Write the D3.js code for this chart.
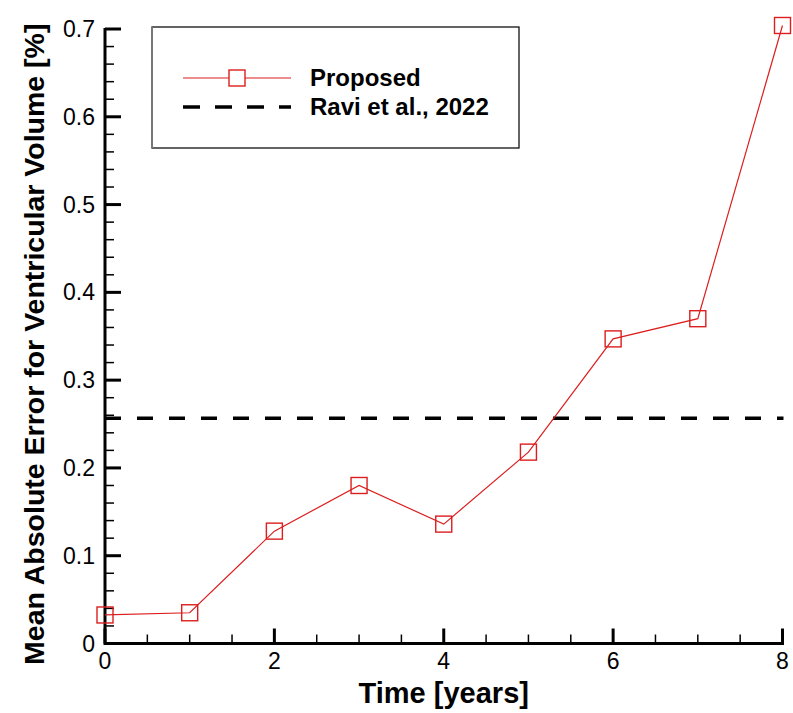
<!DOCTYPE html>
<html>
<head>
<meta charset="utf-8">
<script src="https://cdn.jsdelivr.net/npm/d3@7"></script>
<style>
  body { margin: 0; background: #fff; }
  svg text { font-family: "Liberation Sans", Arial, Helvetica, sans-serif; }
</style>
</head>
<body>
<div id="chart"></div>
<script>
// data
var years = [0, 1, 2, 3, 4, 5, 6, 7, 8];
var proposedMAE = [0.0325, 0.035, 0.128, 0.180, 0.136, 0.218, 0.347, 0.370, 0.704];
var raviMAE = 0.2565;
var xTicks = [0, 2, 4, 6, 8];
var yTicks = [0, 0.1, 0.2, 0.3, 0.4, 0.5, 0.6, 0.7];
var legendLabels = ["Proposed", "Ravi et al., 2022"];

var W = 793, H = 713;
var plotL = 105, plotR = 782.5, plotT = 29, plotB = 643.5;
var red = "#dc1e1e";

var svg = d3.select("#chart").append("svg").attr("width", W).attr("height", H);

var x = d3.scaleLinear().domain([0, 8]).range([plotL, plotR]);
var y = d3.scaleLinear().domain([0, 0.7]).range([plotB, plotT]);

/*
 * ticks point inwards, minor ones thinner and shorter
 */
var xMinor = d3.range(0, 8.01, 0.5).filter(function (d) { return d % 2 !== 0; });
var yMinor = d3.range(0, 0.701, 0.02).filter(function (d) { return Math.abs(d * 10 - Math.round(d * 10)) > 1e-6; });

var gx = svg.append("g");
gx.selectAll("line.minor").data(xMinor).enter().append("line")
    .attr("x1", x).attr("x2", x).attr("y1", plotB).attr("y2", plotB - 9)
    .attr("stroke", "#000").attr("stroke-width", 1.5);
gx.selectAll("line.major").data(xTicks).enter().append("line")
    .attr("x1", x).attr("x2", x).attr("y1", plotB).attr("y2", plotB - 15)
    .attr("stroke", "#000").attr("stroke-width", 3);
gx.selectAll("text").data(xTicks).enter().append("text")
    .attr("x", x).attr("y", 669)
    .attr("text-anchor", "middle").attr("font-size", 23)
    .text(function (d) { return d; });

var gy = svg.append("g");
gy.selectAll("line.minor").data(yMinor).enter().append("line")
    .attr("x1", plotL).attr("x2", plotL + 9).attr("y1", y).attr("y2", y)
    .attr("stroke", "#000").attr("stroke-width", 1.5);
gy.selectAll("line.major").data(yTicks).enter().append("line")
    .attr("x1", plotL).attr("x2", plotL + 16).attr("y1", y).attr("y2", y)
    .attr("stroke", "#000").attr("stroke-width", 3);
gy.selectAll("text").data(yTicks).enter().append("text")
    .attr("x", 95).attr("y", function (d) { return y(d) + 8; })
    .attr("text-anchor", "end").attr("font-size", 23)
    .text(function (d) { return d === 0 ? "0" : d3.format(".1f")(d); });

// axis lines
svg.append("line").attr("x1", plotL).attr("x2", plotR + 1.5).attr("y1", plotB).attr("y2", plotB)
    .attr("stroke", "#000").attr("stroke-width", 3);
svg.append("line").attr("x1", plotL).attr("x2", plotL).attr("y1", plotT - 1).attr("y2", plotB + 1.5)
    .attr("stroke", "#000").attr("stroke-width", 3);

// axis titles
svg.append("text").attr("x", (plotL + plotR) / 2).attr("y", 703)
    .attr("text-anchor", "middle").attr("font-size", 29).attr("font-weight", "bold")
    .text("Time [years]");
svg.append("text")
    .attr("transform", "translate(44," + ((plotT + plotB) / 2 + 8) + ") rotate(-90)")
    .attr("text-anchor", "middle").attr("font-size", 28.5).attr("font-weight", "bold")
    .text("Mean Absolute Error for Ventricular Volume [%]");

// Ravi et al. reference level
svg.append("line")
    .attr("x1", plotL).attr("x2", plotR + 1)
    .attr("y1", y(raviMAE)).attr("y2", y(raviMAE))
    .attr("stroke", "#000").attr("stroke-width", 3.5)
    .attr("stroke-dasharray", "16,16");

// proposed series
var line = d3.line()
    .x(function (d, i) { return x(years[i]); })
    .y(function (d) { return y(d); });
svg.append("path").datum(proposedMAE)
    .attr("d", line).attr("fill", "none")
    .attr("stroke", red).attr("stroke-width", 1.2);
svg.selectAll("rect.marker").data(proposedMAE).enter().append("rect")
    .attr("class", "marker")
    .attr("x", function (d, i) { return x(years[i]) - 8; })
    .attr("y", function (d) { return y(d) - 8; })
    .attr("width", 16).attr("height", 16)
    .attr("fill", "none").attr("stroke", red).attr("stroke-width", 1.4);

// legend
var lg = svg.append("g");
lg.append("rect").attr("x", 152).attr("y", 27).attr("width", 367).attr("height", 121)
    .attr("fill", "#fff").attr("stroke", "#111").attr("stroke-width", 1.3);
lg.append("line").attr("x1", 152).attr("x2", 152).attr("y1", 27).attr("y2", 148)
    .attr("stroke", "#777").attr("stroke-width", 2);
lg.append("line").attr("x1", 183).attr("x2", 291).attr("y1", 78).attr("y2", 78)
    .attr("stroke", red).attr("stroke-width", 1.2);
lg.append("rect").attr("x", 229).attr("y", 70).attr("width", 16).attr("height", 16)
    .attr("fill", "#fff").attr("stroke", red).attr("stroke-width", 1.4);
lg.append("line").attr("x1", 183).attr("x2", 291).attr("y1", 107).attr("y2", 107)
    .attr("stroke", "#000").attr("stroke-width", 3.5).attr("stroke-dasharray", "17,15");
lg.selectAll("text").data(legendLabels).enter().append("text")
    .attr("x", 310).attr("y", function (d, i) { return 86 + i * 28.5; })
    .attr("font-size", 24).attr("font-weight", "bold")
    .text(function (d) { return d; });
</script>
</body>
</html>
